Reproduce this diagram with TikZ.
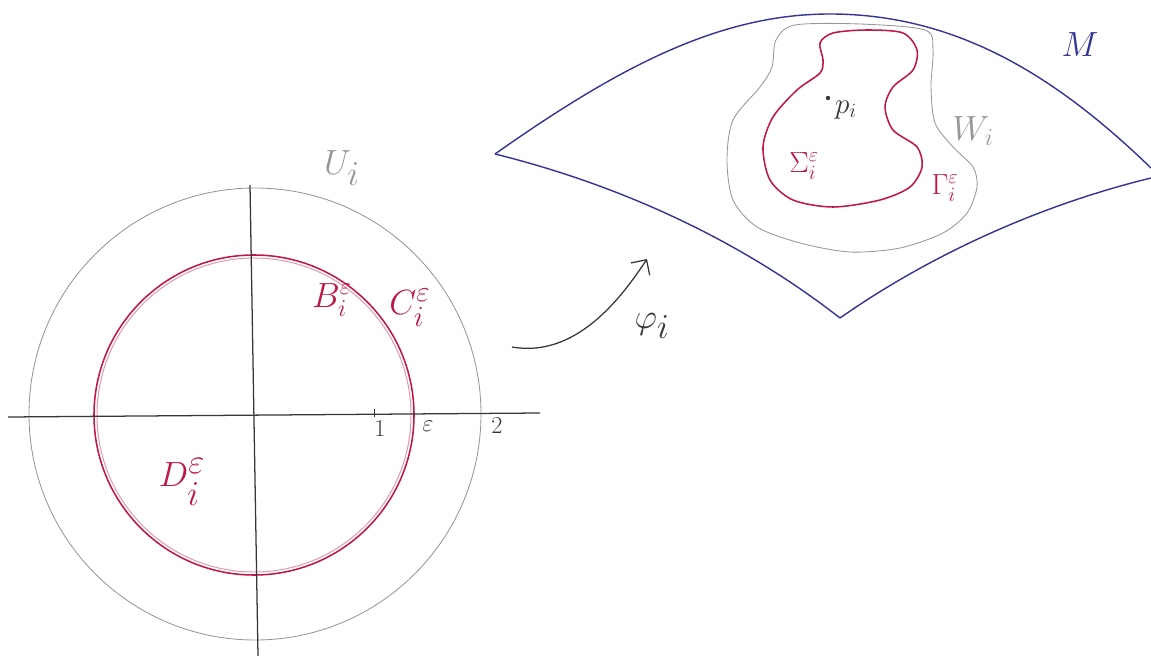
\documentclass[tikz,border=0pt]{standalone}
\usepackage{amsmath,amssymb}
\usepackage{tikz}
\usetikzlibrary{arrows.meta,positioning,calc}
\definecolor{inkred}{RGB}{190,25,70}
\definecolor{inkpink}{RGB}{228,150,172}
\definecolor{inkblue}{RGB}{52,52,150}
\definecolor{inkgrey}{RGB}{150,150,150}
\definecolor{inkdark}{RGB}{55,55,55}

\begin{document}
\begin{tikzpicture}[x=0.025cm,y=-0.025cm,
    axisline/.style={draw=inkdark,line width=0.9pt},
    greyline/.style={draw=inkgrey,line width=0.6pt},
    redline/.style={draw=inkred,line width=1.1pt},
    blueline/.style={draw=inkblue,line width=1pt},
    redlbl/.style={text=inkred,inner sep=0pt},
    greylbl/.style={text=inkgrey,inner sep=0pt},
    darklbl/.style={text=inkdark,inner sep=0pt}]
\useasboundingbox (0,0) rectangle (1151,656);

% chart U_i and the disc
\coordinate (o) at (255,414);
\draw[greyline] (o) circle (226);
\draw[draw=inkpink,line width=0.7pt] (254,415) circle (157);
\draw[redline] (254,415) circle (160);
\coordinate (xl) at (8,417);
\coordinate (xr) at (540,413);
\coordinate (yt) at (250,185);
\coordinate (yb) at (258,656);
\draw[axisline] (xl) -- (xr);
\draw[axisline] (yt) -- (yb);
\draw[axisline,line width=0.6pt] (374,409) -- (374,417);

\node[darklbl,font=\fontsize{17}{17}\selectfont] (one) at (380,429) {$1$};
\node[darklbl,font=\fontsize{17}{17}\selectfont] (eps) at (428,426) {$\varepsilon$};
\node[darklbl,font=\fontsize{17}{17}\selectfont] (two) at (497,426) {$2$};

\node[greylbl,font=\fontsize{42}{42}\selectfont] (U) at (342,168) {$U_i$};
\node[redlbl,font=\fontsize{24}{24}\selectfont] (B) at (332,300) {$B_i^{\varepsilon}$};
\node[redlbl,font=\fontsize{28}{28}\selectfont] (C) at (410,308) {$C_i^{\varepsilon}$};
\node[redlbl,font=\fontsize{38}{38}\selectfont] (D) at (182,482) {$D_i^{\varepsilon}$};

% the map phi_i
\coordinate (phistart) at (512,347);
\coordinate (phiend) at (647,259);
\draw[draw=inkdark,line width=0.9pt,-{Straight Barb[length=8pt,width=16pt]}]
  (phistart) .. controls (575,358) and (620,300) .. (phiend);
\node[darklbl,font=\fontsize{38}{38}\selectfont] (phi) at (652,326) {$\varphi_i$};

% the manifold M
\coordinate (mleft) at (495,154);
\coordinate (mbot) at (840,318);
\coordinate (mtopr) at (1151,168);
\coordinate (mbotr) at (1151,178);
\draw[blueline] (mleft) .. controls (620,66) and (720,14) .. (830,14)
  .. controls (960,14) and (1060,80) .. (mtopr);
\draw[blueline] (mleft) .. controls (620,185) and (740,240) .. (mbot);
\draw[blueline] (mbot) .. controls (930,255) and (1040,205) .. (mbotr);
\node[text=inkblue,inner sep=0pt,font=\fontsize{54}{54}\selectfont] (M) at (1080,45) {$M$};

% W_i and Sigma_i
\draw[greyline] plot[smooth cycle] coordinates {(795,25) (860,24) (925,30) (933,50)
  (931,87) (935,123) (953,147) (973,167) (977,187) (967,213) (943,233) (900,248)
  (850,252) (800,243) (757,227) (733,200) (727,160) (733,120) (760,87) (772,67) (776,40)};
\draw[redline] plot[smooth cycle] coordinates {(820,43) (833,33) (867,30) (903,33)
  (917,50) (913,70) (893,87) (885,107) (893,130) (917,147) (922,167) (910,187)
  (880,200) (833,207) (793,200) (770,180) (763,147) (773,117) (797,90) (820,73) (823,60)};

\node[circle,fill=inkdark,inner sep=1.1pt] (p) at (828,98) {};
\node[darklbl,font=\fontsize{22}{22}\selectfont] (plbl) at (846,110) {$p_i$};
\node[greylbl,font=\fontsize{24}{24}\selectfont] (W) at (973,131) {$W_i$};
\node[redlbl,font=\fontsize{22}{22}\selectfont] (Sigma) at (804,166) {$\Sigma_i^{\varepsilon}$};
\node[redlbl,font=\fontsize{22}{22}\selectfont] (Gamma) at (945,188) {$\Gamma_i^{\varepsilon}$};
\end{tikzpicture}
\end{document}
